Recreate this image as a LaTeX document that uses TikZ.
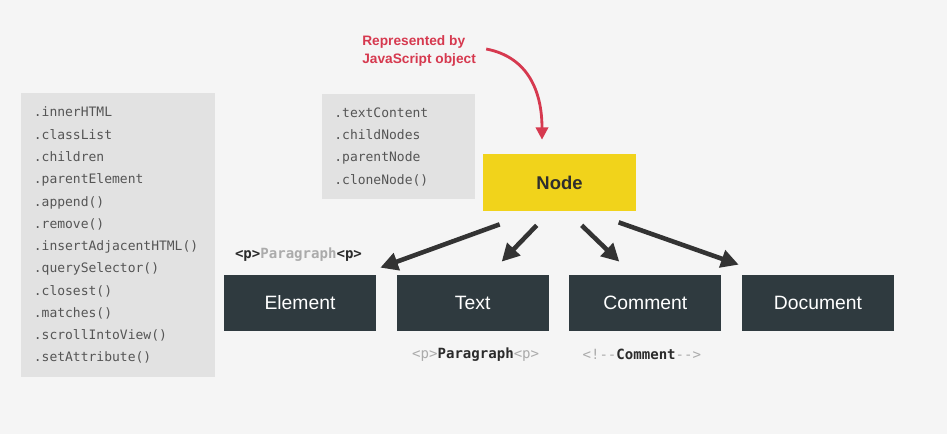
\documentclass[tikz,border=0pt]{standalone}
\usepackage{fontspec}
\setmainfont{Liberation Sans}
\setmonofont{DejaVu Sans Mono}
\usetikzlibrary{arrows.meta,positioning,calc}
\definecolor{bgcol}{HTML}{F5F5F5}
\definecolor{listgray}{HTML}{E2E2E2}
\definecolor{monotext}{HTML}{555555}
\definecolor{nodeyellow}{HTML}{F1D31B}
\definecolor{nodetext}{HTML}{2E2E2E}
\definecolor{darkbox}{HTML}{2F3A3F}
\definecolor{arrowdark}{HTML}{333333}
\definecolor{jsred}{HTML}{D6394F}
\definecolor{lightcode}{HTML}{ABABAB}
\definecolor{codedark}{HTML}{2B2B2B}

\begin{document}
\begin{tikzpicture}[x=0.02cm,y=-0.02cm]
				\tikzset{methods/.style={fill=listgray,text=monotext,anchor=north west,align=left,inner xsep=0.25cm,inner ysep=0pt,font=\ttfamily\fontsize{7.4}{12.67}\selectfont}}
				\tikzset{domtype/.style={fill=darkbox,text=white,minimum width=3.04cm,minimum height=1.12cm,inner sep=0pt,font=\fontsize{11}{13}\selectfont}}
				\tikzset{child/.style={draw=arrowdark,line width=2.6pt,-{Triangle[length=10pt,width=10pt]}}}
				\tikzset{codelabel/.style={inner sep=0pt,text=codedark,font=\ttfamily\fontsize{8}{10}\selectfont}}
				\fill[bgcol] (0,0) rectangle (947,434);
				\node[methods,minimum width=3.88cm,minimum height=5.68cm,text width=3.38cm] (elementlist) at (21,93) {.innerHTML\\.classList\\.children\\.parentElement\\.append()\\.remove()\\.insertAdjacentHTML()\\.querySelector()\\.closest()\\.matches()\\.scrollIntoView()\\.setAttribute()};
				\node[methods,minimum width=3.06cm,minimum height=2.10cm,text width=2.58cm,inner xsep=0.24cm] (nodelist) at (322,94) {.textContent\\.childNodes\\.parentNode\\.cloneNode()};
				\node[fill=nodeyellow,text=nodetext,minimum width=3.06cm,minimum height=1.14cm,inner sep=0pt,font=\bfseries\fontsize{10.5}{12}\selectfont] (node) at (559.5,182.5) {Node};
				\node[domtype] (element) at (300,303) {Element};
				\node[domtype,right=0.4cm of element] (text) {Text};
				\node[domtype,right=0.4cm of text] (comment) {Comment};
				\node[domtype,right=0.4cm of comment] (document) {Document};
				\draw[child] ($(node.south west)+(17,13)$) -- ($(element.north east)+(4,-7)$);
				\draw[child] ($(node.south west)+(54,14)$) -- ($(text.north)+(29,-13)$);
				\draw[child] ($(node.south west)+(99,14)$) -- ($(comment.north)+(-26,-13)$);
				\draw[child] ($(node.south west)+(136,11)$) -- ($(document.north west)+(-3,-10)$);
				\node[anchor=west,align=left,inner sep=0pt,text=jsred,font=\bfseries\fontsize{7.8}{10.2}\selectfont] (jsobject) at (362,51) {Represented by\\JavaScript object};
				\draw[jsred,line width=1.6pt,-{Triangle[length=7pt,width=7pt]}] ($(jsobject.east)+(10,-2)$) .. controls +(42,8) and +(0,-48) .. ($(node.north)+(-17.5,-14)$);
				\node[codelabel,anchor=west] (elementcode) at ($(element.north west)+(11,-20)$) {\textbf{<p>}\textcolor{lightcode}{\textbf{Paragraph}}\textbf{<p>}};
				\node[codelabel] (textcode) at ($(text.south)+(3,23)$) {\textcolor{lightcode}{<p>}\textbf{Paragraph}\textcolor{lightcode}{<p>}};
				\node[codelabel] (commentcode) at ($(comment.south)+(-3.5,23)$) {\textcolor{lightcode}{<!-{}-}\textbf{Comment}\textcolor{lightcode}{-{}->}};
			\end{tikzpicture}
\end{document}
